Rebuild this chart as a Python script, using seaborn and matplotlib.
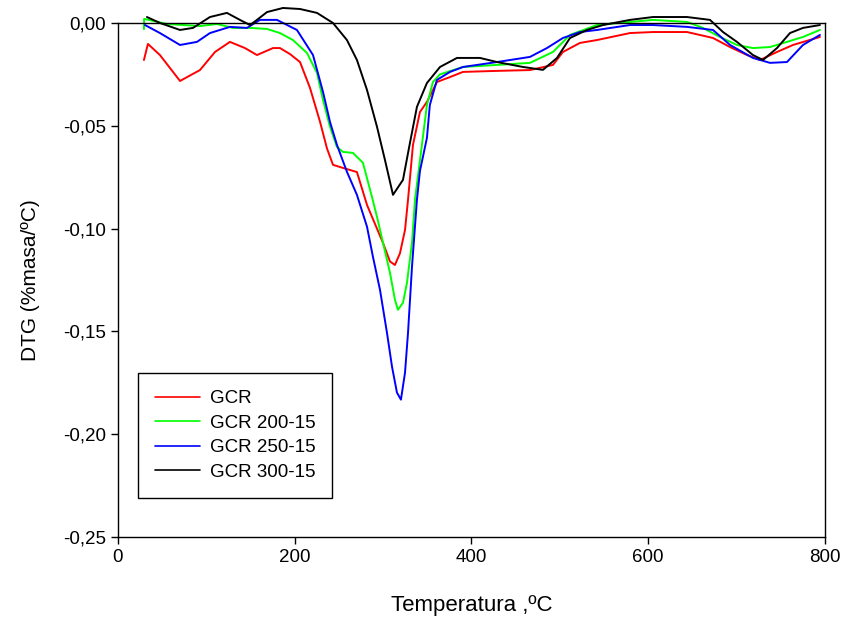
import pandas as pd
import seaborn as sns
import matplotlib.pyplot as plt
from matplotlib.ticker import FuncFormatter

x_gcr = [29.4, 33.9, 47.5, 70.2, 92.8, 109.8, 126.7, 143.7, 157.3, 175.4, 183.3, 194.6,
         206.0, 217.3, 228.6, 236.5, 243.3, 254.6, 270.4, 281.8, 299.9, 307.8, 313.4,
         319.1, 324.8, 328.2, 333.8, 341.7, 349.6, 361.0, 375.7, 390.4, 428.9, 466.2,
         492.2, 503.5, 522.8, 542.0, 579.4, 605.4, 643.9, 673.3, 692.6, 711.8, 726.5,
         745.7, 763.8, 794.3]
y_gcr = [-0.018, -0.0102, -0.0156, -0.0282, -0.0229, -0.0141, -0.0092, -0.0122, -0.0156,
         -0.0122, -0.0122, -0.0151, -0.019, -0.0316, -0.048, -0.061, -0.069, -0.0705,
         -0.0725, -0.0885, -0.107, -0.116, -0.1177, -0.112, -0.1007, -0.086, -0.0593,
         -0.0433, -0.0384, -0.0287, -0.0263, -0.0238, -0.0233, -0.0229, -0.0204, -0.0141,
         -0.0097, -0.0083, -0.0049, -0.0044, -0.0044, -0.0073, -0.0117, -0.0156, -0.018,
         -0.0141, -0.0107, -0.0068]

x_200 = [29.4, 29.6, 55.4, 92.8, 112.0, 130.1, 149.4, 168.6, 183.3, 198.0, 213.9, 225.2,
         232.0, 239.9, 247.8, 254.6, 265.9, 277.2, 287.4, 293.1, 299.9, 307.8, 313.4, 316.8,
         322.5, 327.0, 332.7, 336.1, 349.6, 356.4, 364.4, 390.4, 428.9, 466.2, 492.2,
         511.5, 542.0, 579.4, 605.4, 643.9, 662.0, 681.2, 700.4, 718.5, 737.8, 757.0,
         775.1, 794.3]
y_200 = [-0.003, 0.002, -0.0005, -0.0015, -0.0005, -0.0024, -0.0024, -0.0029, -0.0049,
         -0.0083, -0.0146, -0.0243, -0.0374, -0.0505, -0.0603, -0.0627, -0.0632, -0.068,
         -0.0846, -0.0943, -0.1069, -0.1215, -0.1346, -0.1395, -0.1361, -0.1264, -0.1069,
         -0.086, -0.0399, -0.0287, -0.025, -0.0214, -0.0204, -0.0194, -0.0141, -0.0058,
         -0.001, 0.0005, 0.0015, 0.0005, -0.0024, -0.0068, -0.0107, -0.0122, -0.0117,
         -0.0092, -0.0068, -0.0034]

x_250 = [30.6, 47.5, 70.2, 89.4, 104.1, 126.7, 146.0, 160.7, 179.9, 202.5, 220.7, 232.0,
         239.9, 247.8, 259.1, 270.4, 281.8, 288.5, 296.5, 304.4, 310.1, 315.7, 320.2,
         324.8, 328.2, 332.7, 338.3, 341.7, 349.6, 352.9, 360.9, 375.7, 390.4, 428.9,
         466.2, 485.4, 503.5, 522.8, 542.0, 579.4, 605.4, 643.9, 673.3, 692.6, 718.5,
         737.8, 757.0, 775.1, 794.3]
y_250 = [-0.001, -0.0049, -0.0107, -0.0092, -0.0049, -0.0019, -0.0024, 0.0015, 0.0015,
         -0.0034, -0.0156, -0.0335, -0.0481, -0.0593, -0.0724, -0.0836, -0.0991, -0.1137,
         -0.1298, -0.1507, -0.1672, -0.1798, -0.1832, -0.1701, -0.1507, -0.1186, -0.086,
         -0.072, -0.0559, -0.0399, -0.0277, -0.0238, -0.0214, -0.019, -0.0165, -0.0122,
         -0.0073, -0.0044, -0.0034, -0.001, -0.001, -0.0019, -0.0034, -0.0107, -0.017,
         -0.0194, -0.019, -0.0107, -0.0058]

x_300 = [32.8, 47.5, 70.2, 84.9, 104.1, 123.3, 138.0, 149.4, 157.3, 168.6, 186.7, 206.0,
         225.2, 243.3, 259.1, 270.4, 281.8, 293.1, 302.1, 311.2, 322.5, 330.4, 338.3,
         349.6, 364.4, 383.6, 409.6, 428.9, 458.3, 480.9, 496.8, 511.5, 530.7, 548.8,
         579.4, 605.4, 643.9, 669.9, 684.6, 700.4, 718.5, 729.9, 745.7, 760.4, 775.1,
         794.3]
y_300 = [0.0029, 0.0, -0.0034, -0.0024, 0.0029, 0.0049, 0.0015, -0.001, 0.0015, 0.0053,
         0.0073, 0.0068, 0.0049, 0.0, -0.0083, -0.018, -0.0326, -0.0505, -0.0666, -0.0836,
         -0.0763, -0.0583, -0.0408, -0.0292, -0.0214, -0.017, -0.017, -0.019, -0.0214,
         -0.0228, -0.017, -0.0073, -0.0034, -0.001, 0.0015, 0.0029, 0.0029, 0.0015, -0.0044,
         -0.0092, -0.0156, -0.018, -0.0122, -0.0049, -0.0024, -0.001]

muestras = ['GCR', 'GCR 200-15', 'GCR 250-15', 'GCR 300-15']
colores = ['#ff0000', '#00ff00', '#0000ff', '#000000']

df = pd.concat([
    pd.DataFrame({'T': x_gcr, 'DTG': y_gcr, 'muestra': muestras[0]}),
    pd.DataFrame({'T': x_200, 'DTG': y_200, 'muestra': muestras[1]}),
    pd.DataFrame({'T': x_250, 'DTG': y_250, 'muestra': muestras[2]}),
    pd.DataFrame({'T': x_300, 'DTG': y_300, 'muestra': muestras[3]}),
])

sns.set_style('ticks')
plt.rcParams['font.family'] = ['Liberation Sans', 'DejaVu Sans']
plt.rcParams['text.color'] = 'black'
plt.rcParams['axes.labelcolor'] = 'black'

fig = plt.figure(figsize=(8.45, 6.21), dpi=100)
ax = fig.add_axes([0.1396, 0.1353, 0.8367, 0.8277])
sns.lineplot(data=df, x='T', y='DTG', hue='muestra', hue_order=muestras,
             palette=dict(zip(muestras, colores)), sort=False, estimator=None,
             linewidth=1.4, ax=ax)
for ln in ax.get_lines():
    ln.set_clip_on(False)

ax.set_xlim(0, 800)
ax.set_ylim(-0.25, 0.0)
ax.set_xticks([0, 200, 400, 600, 800])
ax.set_yticks([-0.25, -0.20, -0.15, -0.10, -0.05, 0.0])
ax.yaxis.set_major_formatter(FuncFormatter(lambda v, p: f'{v:.2f}'.replace('.', ',').replace('-0,00', '0,00')))
ax.tick_params(direction='out', length=5, width=1, labelsize=13.5, colors='black',
               top=False, right=False)
for s in ax.spines.values():
    s.set_visible(True)
    s.set_color('black')
    s.set_linewidth(1)
ax.set_xlabel('Temperatura ,ºC', fontsize=16, labelpad=21)
ax.set_ylabel('DTG (%masa/ºC)', fontsize=15, labelpad=17)

leg = ax.legend(loc='lower left', bbox_to_anchor=(0.028, 0.076), borderaxespad=0,
                fontsize=13.5, frameon=True, fancybox=False, edgecolor='black',
                framealpha=1, handlelength=2.4, handletextpad=0.55, borderpad=0.9,
                labelspacing=0.4)
leg.get_frame().set_linewidth(1)
for h in leg.get_lines():
    h.set_linewidth(1.2)
for t in leg.get_texts():
    t.set_color('black')

plt.savefig('out.png', dpi=100)
